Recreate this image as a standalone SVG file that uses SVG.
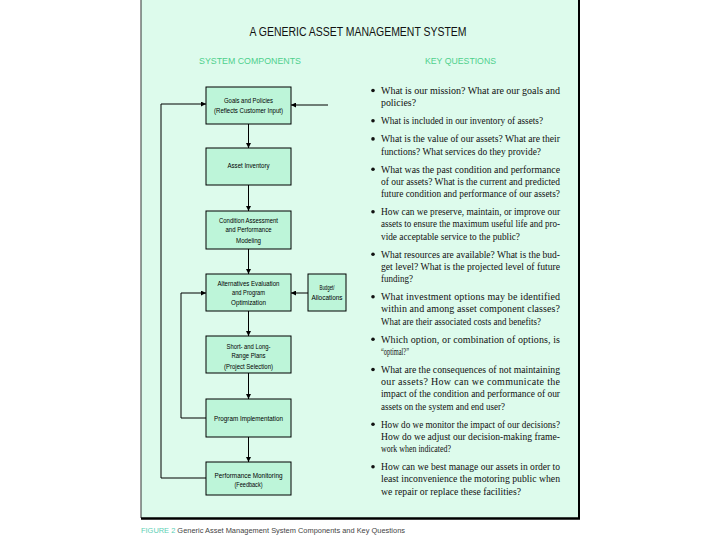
<svg xmlns="http://www.w3.org/2000/svg" width="720" height="540" viewBox="0 0 720 540">
<defs>
<marker id="ah" viewBox="0 0 10 10" refX="10" refY="5" markerWidth="5" markerHeight="5" orient="auto" markerUnits="userSpaceOnUse">
<path d="M0,0 L10,5 L0,10 z" fill="#000"/>
</marker>
<style>
.box{fill:#bdf5d9;stroke:#000;stroke-width:1}
.bt{font-family:"Liberation Sans",Arial,sans-serif;font-size:7px;fill:#000;text-anchor:middle}
.q{font-family:"Liberation Serif","Times New Roman",serif;font-size:10px;fill:#111}
.hd{font-family:"Liberation Sans",Arial,sans-serif;font-size:9px;fill:#4fd08c}
.c{fill:none;stroke:#000;stroke-width:1}
.blt{fill:#111}
</style>
</defs>
<rect x="0" y="0" width="720" height="540" fill="#fff"/>
<rect x="141" y="-2" width="438" height="520" fill="#ddfbec" stroke="none"/>
<line x1="141" y1="0" x2="141" y2="518" stroke="#333" stroke-width="1"/>
<line x1="579" y1="0" x2="579" y2="519" stroke="#000" stroke-width="2"/>
<line x1="141" y1="518.5" x2="580" y2="518.5" stroke="#000" stroke-width="2.5"/>

<text x="358" y="35.5" font-family="Liberation Sans,Arial,sans-serif" font-size="12" fill="#111" text-anchor="middle" textLength="217" lengthAdjust="spacingAndGlyphs">A GENERIC ASSET MANAGEMENT SYSTEM</text>
<text class="hd" x="199" y="64" textLength="102" lengthAdjust="spacingAndGlyphs">SYSTEM COMPONENTS</text>
<text class="hd" x="425" y="64" textLength="71" lengthAdjust="spacingAndGlyphs">KEY QUESTIONS</text>

<g id="connectors">
<line class="c" x1="248.5" y1="124" x2="248.5" y2="148" marker-end="url(#ah)"/>
<line class="c" x1="248.5" y1="185" x2="248.5" y2="211" marker-end="url(#ah)"/>
<line class="c" x1="248.5" y1="249" x2="248.5" y2="274" marker-end="url(#ah)"/>
<line class="c" x1="248.5" y1="311" x2="248.5" y2="336" marker-end="url(#ah)"/>
<line class="c" x1="248.5" y1="373" x2="248.5" y2="399" marker-end="url(#ah)"/>
<line class="c" x1="248.5" y1="437" x2="248.5" y2="462" marker-end="url(#ah)"/>
<line class="c" x1="308" y1="293" x2="291" y2="293" marker-end="url(#ah)"/>
<line class="c" x1="328" y1="105" x2="291" y2="105" marker-end="url(#ah)"/>
<polyline class="c" points="206,418 181,418 181,293 206,293" marker-end="url(#ah)"/>
<polyline class="c" points="206,478 161,478 161,104 206,104" marker-end="url(#ah)"/>
</g>

<g id="goals">
<rect class="box" x="206" y="87" width="85" height="37"/>
<text class="bt" x="248.5" y="103" textLength="49" lengthAdjust="spacingAndGlyphs">Goals and Policies</text>
<text class="bt" x="248.5" y="112.5" textLength="69" lengthAdjust="spacingAndGlyphs">(Reflects Customer Input)</text>
</g>
<g id="inventory">
<rect class="box" x="206" y="148" width="85" height="37"/>
<text class="bt" x="248.5" y="168" textLength="42" lengthAdjust="spacingAndGlyphs">Asset Inventory</text>
</g>
<g id="condition">
<rect class="box" x="206" y="211" width="85" height="38"/>
<text class="bt" x="248.5" y="222.5" textLength="59" lengthAdjust="spacingAndGlyphs">Condition Assessment</text>
<text class="bt" x="248.5" y="232" textLength="46" lengthAdjust="spacingAndGlyphs">and Performance</text>
<text class="bt" x="248.5" y="242.5" textLength="25" lengthAdjust="spacingAndGlyphs">Modeling</text>
</g>
<g id="alternatives">
<rect class="box" x="206" y="274" width="85" height="37"/>
<text class="bt" x="248.5" y="285.5" textLength="62" lengthAdjust="spacingAndGlyphs">Alternatives Evaluation</text>
<text class="bt" x="248.5" y="295" textLength="33" lengthAdjust="spacingAndGlyphs">and Program</text>
<text class="bt" x="248.5" y="305" textLength="35" lengthAdjust="spacingAndGlyphs">Optimization</text>
</g>
<g id="budget">
<rect class="box" x="308" y="274" width="38" height="37"/>
<text class="bt" x="327" y="290" textLength="15" lengthAdjust="spacingAndGlyphs">Budget/</text>
<text class="bt" x="327" y="300" textLength="31" lengthAdjust="spacingAndGlyphs">Allocations</text>
</g>
<g id="plans">
<rect class="box" x="206" y="336" width="85" height="37"/>
<text class="bt" x="248.5" y="348.5" textLength="44" lengthAdjust="spacingAndGlyphs">Short- and Long-</text>
<text class="bt" x="248.5" y="358" textLength="34" lengthAdjust="spacingAndGlyphs">Range Plans</text>
<text class="bt" x="248.5" y="368.5" textLength="49" lengthAdjust="spacingAndGlyphs">(Project Selection)</text>
</g>
<g id="implementation">
<rect class="box" x="206" y="399" width="85" height="38"/>
<text class="bt" x="248.5" y="421" textLength="69" lengthAdjust="spacingAndGlyphs">Program Implementation</text>
</g>
<g id="monitoring">
<rect class="box" x="206" y="462" width="85" height="33"/>
<text class="bt" x="248.5" y="477.5" textLength="68" lengthAdjust="spacingAndGlyphs">Performance Monitoring</text>
<text class="bt" x="248.5" y="487" textLength="28" lengthAdjust="spacingAndGlyphs">(Feedback)</text>
</g>

<g id="questions">
<circle class="blt" cx="373" cy="90.5" r="1.8"/>
<text class="q" x="381" y="94" textLength="179" lengthAdjust="spacing">What is our mission? What are our goals and</text>
<text class="q" x="381" y="106.2" textLength="35" lengthAdjust="spacingAndGlyphs">policies?</text>
<circle class="blt" cx="373" cy="120.8" r="1.8"/>
<text class="q" x="381" y="124.3" textLength="162" lengthAdjust="spacingAndGlyphs">What is included in our inventory of assets?</text>
<circle class="blt" cx="373" cy="138.9" r="1.8"/>
<text class="q" x="381" y="142.4" textLength="179" lengthAdjust="spacingAndGlyphs">What is the value of our assets? What are their</text>
<text class="q" x="381" y="154.6" textLength="160" lengthAdjust="spacingAndGlyphs">functions? What services do they provide?</text>
<circle class="blt" cx="373" cy="169.2" r="1.8"/>
<text class="q" x="381" y="172.7" textLength="179" lengthAdjust="spacingAndGlyphs">What was the past condition and performance</text>
<text class="q" x="381" y="184.9" textLength="179" lengthAdjust="spacingAndGlyphs">of our assets? What is the current and predicted</text>
<text class="q" x="381" y="197.1" textLength="179" lengthAdjust="spacingAndGlyphs">future condition and performance of our assets?</text>
<circle class="blt" cx="373" cy="211.7" r="1.8"/>
<text class="q" x="381" y="215.2" textLength="179" lengthAdjust="spacingAndGlyphs">How can we preserve, maintain, or improve our</text>
<text class="q" x="381" y="227.4" textLength="179" lengthAdjust="spacingAndGlyphs">assets to ensure the maximum useful life and pro-</text>
<text class="q" x="381" y="239.6" textLength="139" lengthAdjust="spacingAndGlyphs">vide acceptable service to the public?</text>
<circle class="blt" cx="373" cy="254.2" r="1.8"/>
<text class="q" x="381" y="257.7" textLength="179" lengthAdjust="spacingAndGlyphs">What resources are available? What is the bud-</text>
<text class="q" x="381" y="269.9" textLength="179" lengthAdjust="spacingAndGlyphs">get level? What is the projected level of future</text>
<text class="q" x="381" y="282.1" textLength="32" lengthAdjust="spacingAndGlyphs">funding?</text>
<circle class="blt" cx="373" cy="296.7" r="1.8"/>
<text class="q" x="381" y="300.2" textLength="179" lengthAdjust="spacing">What investment options may be identified</text>
<text class="q" x="381" y="312.4" textLength="179" lengthAdjust="spacing">within and among asset component classes?</text>
<text class="q" x="381" y="324.6" textLength="160" lengthAdjust="spacingAndGlyphs">What are their associated costs and benefits?</text>
<circle class="blt" cx="373" cy="339.2" r="1.8"/>
<text class="q" x="381" y="342.7" textLength="179" lengthAdjust="spacing">Which option, or combination of options, is</text>
<text class="q" x="381" y="354.9" textLength="28" lengthAdjust="spacingAndGlyphs">“optimal?”</text>
<circle class="blt" cx="373" cy="369.5" r="1.8"/>
<text class="q" x="381" y="373" textLength="179" lengthAdjust="spacingAndGlyphs">What are the consequences of not maintaining</text>
<text class="q" x="381" y="385.2" textLength="179" lengthAdjust="spacing">our assets? How can we communicate the</text>
<text class="q" x="381" y="397.4" textLength="179" lengthAdjust="spacingAndGlyphs">impact of the condition and performance of our</text>
<text class="q" x="381" y="409.6" textLength="124" lengthAdjust="spacingAndGlyphs">assets on the system and end user?</text>
<circle class="blt" cx="373" cy="424.2" r="1.8"/>
<text class="q" x="381" y="427.7" textLength="179" lengthAdjust="spacingAndGlyphs">How do we monitor the impact of our decisions?</text>
<text class="q" x="381" y="439.9" textLength="179" lengthAdjust="spacingAndGlyphs">How do we adjust our decision-making frame-</text>
<text class="q" x="381" y="452.1" textLength="70" lengthAdjust="spacingAndGlyphs">work when indicated?</text>
<circle class="blt" cx="373" cy="466.7" r="1.8"/>
<text class="q" x="381" y="470.2" textLength="179" lengthAdjust="spacingAndGlyphs">How can we best manage our assets in order to</text>
<text class="q" x="381" y="482.4" textLength="179" lengthAdjust="spacingAndGlyphs">least inconvenience the motoring public when</text>
<text class="q" x="381" y="494.6" textLength="140" lengthAdjust="spacingAndGlyphs">we repair or replace these facilities?</text>
</g>

<text x="141" y="533" font-family="Liberation Sans,Arial,sans-serif" font-size="8" fill="#444" textLength="264" lengthAdjust="spacingAndGlyphs"><tspan fill="#5ccfb5">FIGURE 2</tspan> Generic Asset Management System Components and Key Questions</text>
</svg>
